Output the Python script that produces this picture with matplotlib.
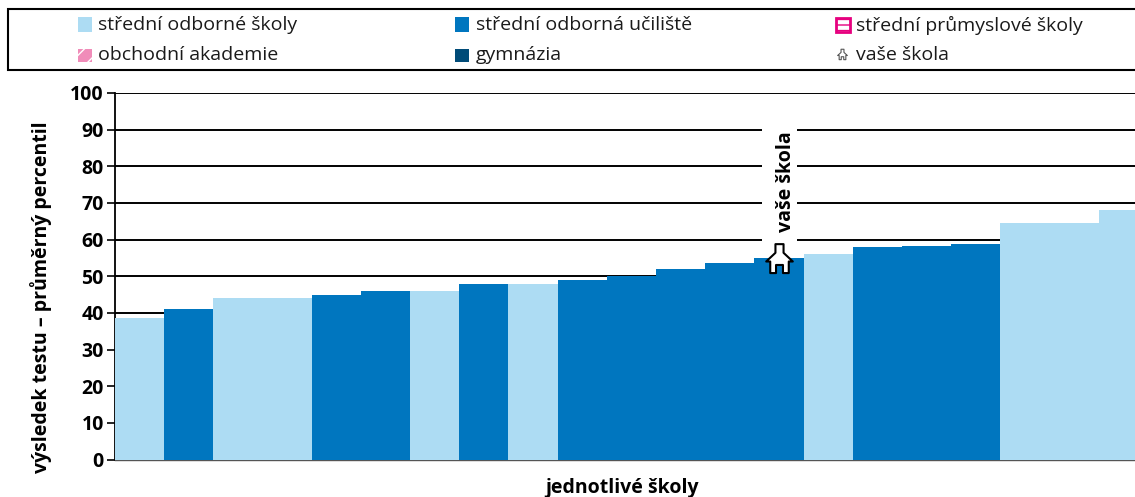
import matplotlib
matplotlib.use('Agg')
import matplotlib.pyplot as plt
from matplotlib.patches import Rectangle
from matplotlib.path import Path
import numpy as np

plt.rcParams['font.family'] = ['Open Sans', 'DejaVu Sans']

# school types, one per bar
sos = 'střední odborné školy'
sou = 'střední odborná učiliště'
types = [sos, sou, sos, sos, sou, sou, sos, sou, sos, sou, sou,
         sou, sou, sou, sos, sou, sou, sou, sos, sos, sos]
values = [38.7, 41.2, 44, 44, 45, 46, 46, 48, 48, 49, 50,
          52, 53.7, 55, 56, 58, 58.3, 58.8, 64.5, 64.5, 68.2]
yticks = [0, 10, 20, 30, 40, 50, 60, 70, 80, 90, 100]
your_school = 13
your_school_y = 54.2

colors = {sos: '#ADDCF3', sou: '#0076BF'}

# little house used as the marker
house = Path([(-0.8, -1), (-0.8, 0), (-1.15, 0), (-0.35, 0.75), (-0.35, 1.5), (0.35, 1.5),
              (0.35, 0.75), (1.15, 0), (0.8, 0), (0.8, -1), (0.3, -1), (0.3, -0.3),
              (-0.3, -0.3), (-0.3, -1), (-0.8, -1)], closed=True)

fig = plt.figure(figsize=(11.35, 4.97), dpi=100)
ax = fig.add_axes([115 / 1135, (497 - 459.5) / 497, 1020 / 1135, 366.5 / 497])

x = np.arange(len(values))
ax.bar(x, values, width=1.0, color=[colors[t] for t in types], zorder=3)
ax.set_xlim(-0.5, 20.24)
ax.set_ylim(0, 100)
ax.set_yticks(yticks)
ax.set_xticks([])
ax.grid(axis='y', color='black', linewidth=1.4)
ax.set_axisbelow(True)
for side in ['top', 'right']:
    ax.spines[side].set_visible(False)
ax.spines['left'].set_linewidth(1.3)
ax.spines['bottom'].set_linewidth(1.0)
ax.spines['bottom'].set_color('#555555')
ax.tick_params(axis='y', length=6, width=1.2, pad=2)
for lab in ax.get_yticklabels():
    lab.set_fontsize(14)
    lab.set_fontweight('bold')
ax.set_ylabel('výsledek testu – průměrný percentil', fontsize=14, fontweight='bold')
ax.set_xlabel('jednotlivé školy', fontsize=14, fontweight='bold')
ax.yaxis.set_label_coords(-0.062, 0.442)
ax.xaxis.set_label_coords(0.497, -0.05)

# gap in the gridlines behind the label
ax.add_patch(Rectangle((12.66, 59.3), 0.71, 32.2, fc='white', ec='none', zorder=2))
ax.plot([your_school], [your_school_y], marker=house, markersize=25, mfc='white', mec='black',
        mew=1.5, ls='none', zorder=5, clip_on=False)
ax.text(your_school + 0.14, 62, 'vaše škola', rotation=90, ha='center', va='bottom',
        fontsize=14, fontweight='bold', zorder=4)

# legend box, laid out in pixels
leg = fig.add_axes([0, 0, 1, 1], zorder=10)
leg.set_xlim(0, 1135)
leg.set_ylim(497, 0)
leg.axis('off')
leg.add_patch(Rectangle((8, 9), 1140, 61, fc='white', ec='black', lw=1.5))
text_c = '#1a1a1a'
fs = 14
leg.add_patch(Rectangle((78, 17), 14, 15, fc=colors[sos], ec='none'))
leg.text(98, 25, sos, va='center', fontsize=fs, color=text_c)
leg.add_patch(Rectangle((455, 17), 14, 15, fc=colors[sou], ec='none'))
leg.text(476, 25, sou, va='center', fontsize=fs, color=text_c)
leg.add_patch(Rectangle((836, 18), 14, 14, fc='white', ec='#E6007E', lw=2, hatch='---'))
leg.text(856, 25, 'střední průmyslové školy', va='center', fontsize=fs, color=text_c)
leg.add_patch(Rectangle((78, 49), 14, 13, fc='#F08CB9', ec='white', lw=0, hatch='//'))
leg.text(98, 55, 'obchodní akademie', va='center', fontsize=fs, color=text_c)
leg.add_patch(Rectangle((455, 49), 14, 13, fc='#004B78', ec='none'))
leg.text(476, 55, 'gymnázia', va='center', fontsize=fs, color=text_c)
leg.plot([842], [55], marker=house, markersize=9, mfc='white', mec='#555555', mew=0.8, ls='none')
leg.text(856, 55, 'vaše škola', va='center', fontsize=fs, color=text_c)

fig.savefig('out.png', dpi=100)
